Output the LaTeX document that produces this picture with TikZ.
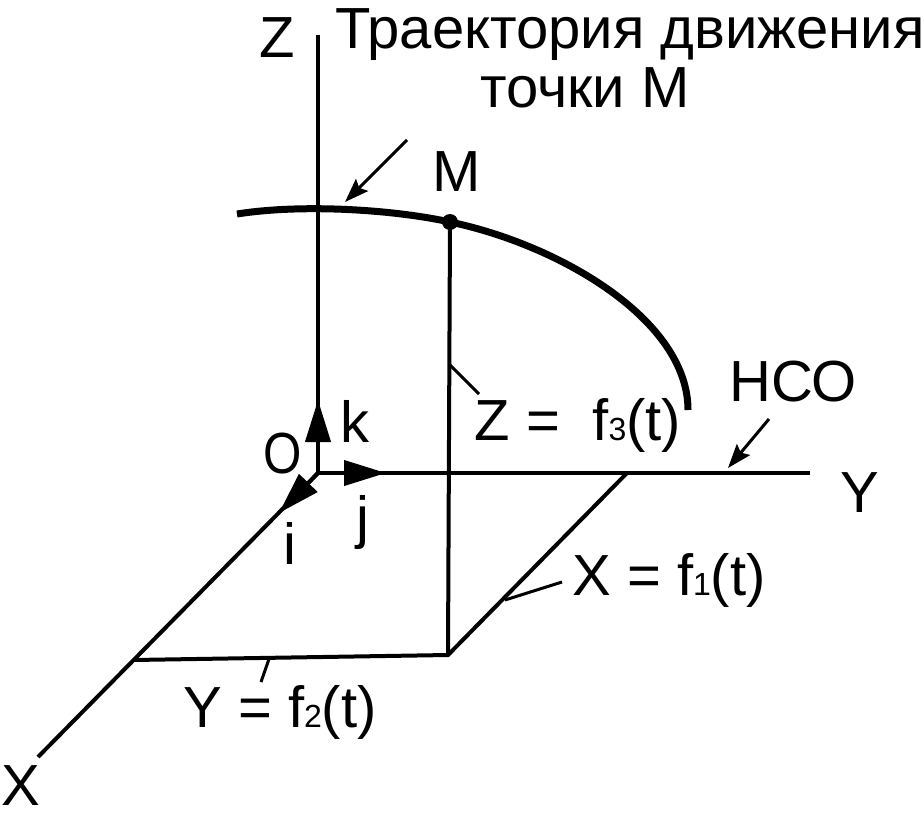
\documentclass[tikz,border=0pt]{standalone}
\usepackage{fontspec}
\setmainfont{Liberation Sans}
\usetikzlibrary{arrows.meta}

\newcommand\idx[1]{{\fontsize{32}{32}\selectfont #1}}

\begin{document}
\begin{tikzpicture}[x=1pt,y=-1pt,line width=4pt,
  lbl/.style={font=\fontsize{58}{60}\selectfont,inner sep=0pt},
  unitvec/.style={-{Triangle[length=42pt,width=25pt]}},
  pointer/.style={line width=3pt,-{Stealth[length=24pt,width=17pt,inset=4pt]}}]
\useasboundingbox (0,0) rectangle (924,817);

\coordinate (O) at (318,473);
\coordinate (Ztop) at (318,35);
\coordinate (Yend) at (810,473);
\coordinate (Xend) at (38,757);
\coordinate (Px) at (133,660);
\coordinate (Py) at (627,473);
\coordinate (P) at (448,655);
\coordinate (M) at (450,222);

% axes and projections
\draw (O) -- (Ztop);
\draw (O) -- (Yend);
\draw (O) -- (Xend);
\draw (Px) -- (P) -- (Py);
\draw (P) -- (M);

% trajectory
\draw[line width=7pt] (237,214) .. controls (300,204) and (390,209) .. (M)
  .. controls (560,245) and (688,320) .. (688,410);
\fill (M) circle (8pt);

% unit vectors
\draw[unitvec] (O) -- (318,400);
\draw[unitvec] (O) -- (386,473);
\draw[unitvec] (O) -- (279,513);

% pointers
\coordinate (trA) at (407,140);
\coordinate (trB) at (345,202);
\draw[pointer] (trA) -- (trB);
\coordinate (hcoA) at (769,419);
\coordinate (hcoB) at (728,468);
\draw[pointer] (hcoA) -- (hcoB);

% leaders
\coordinate (zA) at (450,365);
\coordinate (zB) at (479,394);
\draw[line width=3pt] (zA) -- (zB);
\coordinate (xA) at (505,600);
\coordinate (xB) at (562,582);
\draw[line width=3pt] (xA) -- (xB);
\coordinate (yA) at (269,659);
\coordinate (yB) at (261,682);
\draw[line width=3pt] (yA) -- (yB);

% labels
\node[lbl] (lZ) at (277,38) {Z};
\node[lbl] (tr1) at (630,35) {Траектория движения};
\node[lbl] (tr2) at (585,88) {точки М};
\node[lbl] (lM) at (457,172) {M};
\node[lbl] (lO) at (283,454) {\scalebox{0.85}[1]{O}};
\node[lbl] (lk) at (355,421) {k};
\node[lbl] (li) at (290,543) {i};
\node[lbl] (lj) at (363,522) {j};
\node[lbl] (f3) at (578,425) {Z =\ \ f\idx{3}(t)};
\node[lbl] (hco) at (793,382) {НСО};
\node[lbl] (lY) at (860,493) {Y};
\node[lbl] (f1) at (669,580) {X = f\idx{1}(t)};
\node[lbl] (f2) at (280,712) {Y = f\idx{2}(t)};
\node[lbl] (lX) at (21,786) {X};
\end{tikzpicture}
\end{document}
